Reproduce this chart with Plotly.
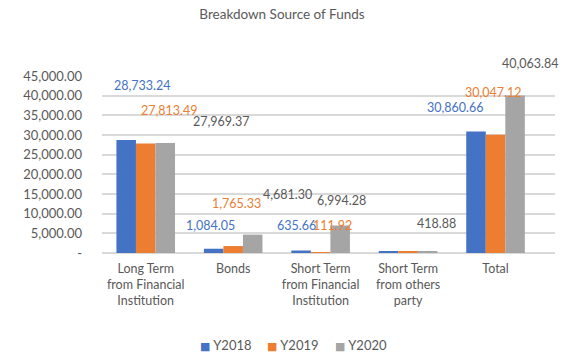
import plotly.graph_objects as go

# Source-of-funds breakdown by year
categories = [
    "Long Term<br>from Financial<br>Institution",
    "Bonds",
    "Short Term<br>from Financial<br>Institution",
    "Short Term<br>from others<br>party",
    "Total",
]
y2018 = [28733.24, 1084.05, 635.66, 407.71, 30860.66]
y2019 = [27813.49, 1765.33, 111.92, 356.38, 30047.12]
y2020 = [27969.37, 4681.30, 6994.28, 418.88, 40063.84]
y_ticks = [0, 5000, 10000, 15000, 20000, 25000, 30000, 35000, 40000, 45000]

series = [
    ("Y2018", y2018, "#4472C4", "#4472C4"),
    ("Y2019", y2019, "#ED7D31", "#ED7D31"),
    ("Y2020", y2020, "#A5A5A5", "#595959"),
]

# which labels are shown, plus their pixel offsets from each bar's category centre / top
label_shown = {
    "Y2018": [True, True, True, False, True],
    "Y2019": [True, True, True, False, True],
    "Y2020": [True, True, True, True, True],
}
label_dx = {
    "Y2018": [-3, -23, -24, 0, -40],
    "Y2019": [24, 3, 12, 0, -2],
    "Y2020": [76, 54, 21, 28, 35],
}
label_dy = {
    "Y2018": [54, 23, 25, 0, 24],
    "Y2019": [33, 43, 27, 0, 42],
    "Y2020": [21, 40, 25, 28, 32],
}

# compact key below the chart: left edge of each entry, in page pixels
legend_left_px = [198, 265, 333]
legend_y_px = 345

FONT = "Lato, 'Open Sans', sans-serif"
GREY_TEXT = "#595959"
W, H = 564, 356

fig = go.Figure()
for name, vals, color, _ in series:
    fig.add_trace(go.Bar(
        name=name, x=list(range(len(categories))), y=vals,
        marker=dict(color=color, line=dict(width=0)),
        hoverinfo="skip", showlegend=False,
    ))

annotations = []
for name, vals, _, tcolor in series:
    for i, v in enumerate(vals):
        if not label_shown[name][i]:
            continue
        annotations.append(dict(
            x=i, y=v, xref="x", yref="y",
            text=f"{v:,.2f}", showarrow=False,
            xshift=label_dx[name][i], yshift=label_dy[name][i],
            font=dict(family=FONT, size=12.5, color=tcolor),
            xanchor="center", yanchor="middle",
        ))

for (name, _, color, _), left in zip(series, legend_left_px):
    annotations.append(dict(
        x=left / W, y=1 - legend_y_px / H, xref="paper", yref="paper",
        text=f"<span style='color:{color};font-family:DejaVu Sans;font-size:11px'>■</span> {name}",
        showarrow=False, xanchor="left", yanchor="middle",
        font=dict(family=FONT, size=13, color=GREY_TEXT),
    ))

fig.update_layout(
    width=W, height=H,
    margin=dict(l=0, r=0, t=0, b=0, autoexpand=False),
    paper_bgcolor="white", plot_bgcolor="white",
    barmode="group", bargap=0.33, bargroupgap=0,
    showlegend=False,
    font=dict(family=FONT, color=GREY_TEXT),
    title=dict(
        text="Breakdown Source of Funds",
        x=0.5, xref="container", xanchor="center",
        y=1 - 14 / H, yref="container", yanchor="middle",
        font=dict(family=FONT, size=13.5, color=GREY_TEXT),
    ),
    xaxis=dict(
        domain=[102 / W, 555 / W], automargin=False,
        tickmode="array", tickvals=list(range(len(categories))),
        ticktext=categories, range=[-0.5, 4.68],
        showgrid=False, zeroline=False, showline=False, ticks="",
        ticklabelstandoff=6,
        tickfont=dict(family=FONT, size=12.5, color=GREY_TEXT),
    ),
    yaxis=dict(
        domain=[1 - 253 / H, 1 - 76 / H], automargin=False,
        range=[0, 45000], tickmode="array", tickvals=y_ticks,
        ticktext=[f"{t:,.2f}" if t else "-" for t in y_ticks],
        showgrid=True, gridcolor="#D9D9D9", gridwidth=1.5,
        zeroline=True, zerolinecolor="#D9D9D9", zerolinewidth=1.5,
        showline=False, ticks="", ticklabelstandoff=19,
        tickfont=dict(family=FONT, size=13, color=GREY_TEXT),
    ),
    annotations=annotations,
)

fig.write_html("out.html")
